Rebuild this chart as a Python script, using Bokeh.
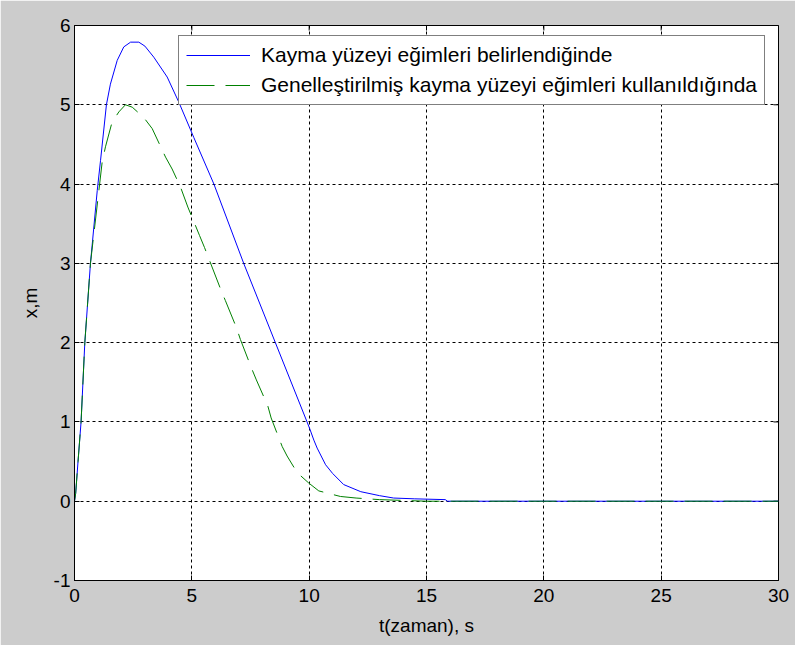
import math
from bokeh.plotting import figure
from bokeh.models import Range1d, FixedTicker, Legend, LegendItem
from bokeh.embed import file_html
from bokeh.resources import INLINE

# Blue: "Kayma yüzeyi eğimleri belirlendiğinde"
t_blue = [0, 0.05, 0.15, 0.28, 0.44, 0.68, 0.97, 1.11, 1.36, 1.53, 1.82, 2.1, 2.39,
          2.74, 3.0, 3.38, 3.95, 4.45, 5.08, 5.94, 7.21, 8.56, 9.91, 10.03, 10.2,
          10.34, 10.7, 11.0, 11.47, 12.2, 13.0, 13.6, 14.5, 15.8, 15.9, 30]
x_blue = [0, 0.1, 0.5, 1.0, 2.0, 3.0, 3.92, 4.3, 5.0, 5.26, 5.56, 5.73, 5.79,
          5.79, 5.74, 5.6, 5.35, 5.03, 4.59, 4.0, 3.0, 2.0, 1.0, 0.91, 0.77,
          0.67, 0.46, 0.35, 0.21, 0.12, 0.07, 0.04, 0.03, 0.02, 0.0, 0.0]

# Green: "Genelleştirilmiş kayma yüzeyi eğimleri kullanıldığında"
t_green = [0, 0.05, 0.15, 0.28, 0.44, 0.68, 1.04, 1.18, 1.32, 1.6, 1.89, 2.17, 2.46,
           2.95, 3.31, 3.88, 4.16, 4.52, 4.83, 5.33, 5.54, 6.22, 6.43, 6.9, 7.07,
           7.54, 7.75, 8.24, 8.38, 8.85, 9.06, 9.49, 9.98, 10.41, 11.33, 12, 13,
           14, 15, 30]
x_green = [0, 0.1, 0.5, 1.0, 2.0, 3.0, 3.92, 4.28, 4.47, 4.78, 4.91, 5.0, 4.97,
           4.84, 4.70, 4.34, 4.19, 3.96, 3.71, 3.35, 3.2, 2.68, 2.53, 2.19, 2.04,
           1.68, 1.53, 1.2, 1.05, 0.69, 0.57, 0.36, 0.23, 0.13, 0.06, 0.04, 0.02,
           0.01, 0.0, 0.0]

x_ticks = [0, 5, 10, 15, 20, 25, 30]
y_ticks = [-1, 0, 1, 2, 3, 4, 5, 6]
y_tick_labels = ["-1", "0", "1", "2", "3", "4", "5", "6"]
label_blue = "Kayma yüzeyi eğimleri belirlendiğinde"
label_green = "Genelleştirilmiş kayma yüzeyi eğimleri kullanıldığında"

FONT = "Liberation Sans"

p = figure(width=795, height=645, output_backend="svg", toolbar_location=None,
           x_range=Range1d(x_ticks[0], x_ticks[-1]), y_range=Range1d(y_ticks[0], y_ticks[-1]),
           min_border_left=74, min_border_right=17, min_border_top=25,
           min_border_bottom=65)
p.border_fill_color = "#cccccc"
p.background_fill_color = "white"
p.outline_line_color = "black"
p.outline_line_width = 1

for ax in (p.xaxis[0], p.yaxis[0]):
    ax.major_tick_in = 5
    ax.major_tick_out = 0
    ax.minor_tick_line_color = None
    ax.axis_line_color = "black"
    ax.major_tick_line_color = "black"
    ax.major_label_text_font = FONT
    ax.major_label_text_font_size = "19px"
    ax.major_label_text_color = "black"
    ax.axis_label_text_font = FONT
    ax.axis_label_text_font_size = "19px"
    ax.axis_label_text_font_style = "normal"
    ax.axis_label_text_color = "black"

p.xaxis[0].ticker = FixedTicker(ticks=x_ticks)
p.yaxis[0].ticker = FixedTicker(ticks=y_ticks)
p.yaxis[0].major_label_overrides = dict(zip(y_ticks, y_tick_labels))
p.xaxis[0].axis_label = "t(zaman), s"
p.yaxis[0].axis_label = "x,m"
p.xaxis[0].major_label_standoff = 8
p.yaxis[0].major_label_standoff = 4
p.xaxis[0].axis_label_standoff = 10
p.yaxis[0].axis_label_standoff = 10

p.xgrid.ticker = FixedTicker(ticks=x_ticks)
p.ygrid.ticker = FixedTicker(ticks=y_ticks)
for g in (p.xgrid[0], p.ygrid[0]):
    g.grid_line_color = "black"
    g.grid_line_dash = "3 3"
    g.grid_line_width = 1
    g.grid_line_alpha = 1.0

# inward tick marks on the top and right edges of the box (half outside is clipped)
p.scatter(x_ticks, [y_ticks[-1]] * len(x_ticks), marker="dash", size=10,
          angle=math.pi / 2, line_color="black", line_width=1)
p.scatter([x_ticks[-1]] * len(y_ticks), y_ticks, marker="dash", size=10,
          line_color="black", line_width=1)

r_blue = p.line(t_blue, x_blue, line_color="#0000ff", line_width=1)
r_green = p.line(t_green, x_green, line_color="#008000", line_width=1,
                 line_dash="28 11")

legend = Legend(items=[LegendItem(label=label_blue, renderers=[r_blue]),
                       LegendItem(label=label_green, renderers=[r_green])],
                location=(104, 475))
legend.label_text_font = FONT
legend.label_text_font_size = "21px"
legend.label_text_color = "black"
legend.glyph_width = 64
legend.glyph_height = 20
legend.label_height = 20
legend.label_standoff = 11
legend.spacing = 6
legend.padding = 7
legend.margin = 0
legend.border_line_color = "black"
legend.border_line_width = 1
legend.background_fill_color = "white"
legend.background_fill_alpha = 1.0
p.add_layout(legend, "center")

open("out.html", "w").write(file_html(p, INLINE))
